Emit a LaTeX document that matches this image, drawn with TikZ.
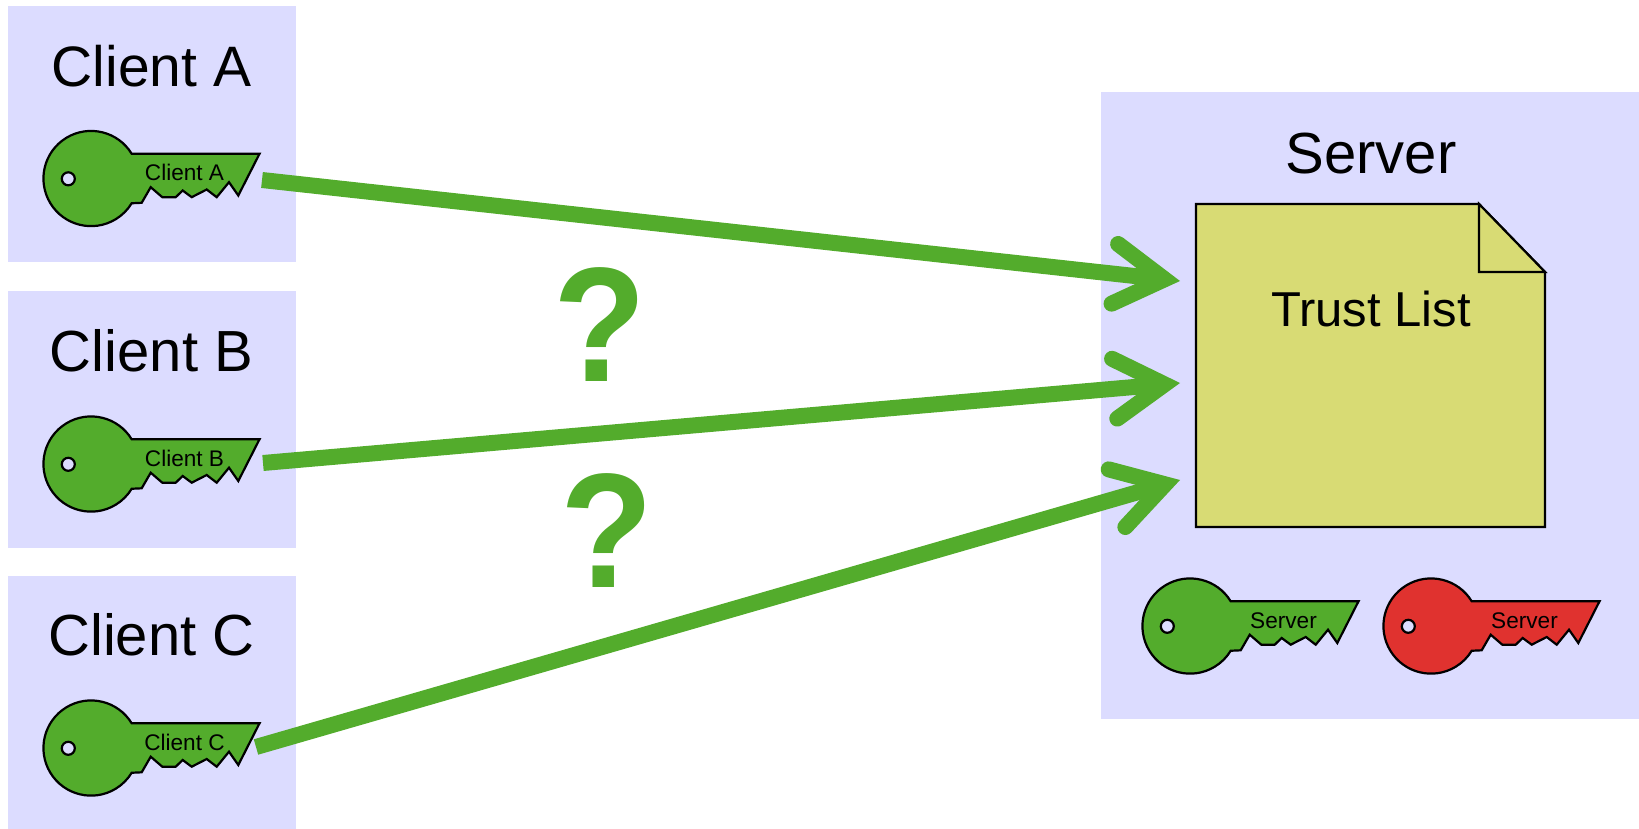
\documentclass[tikz,border=0pt]{standalone}
\usepackage{graphicx}
\usepackage{fontspec}
\setmainfont{Liberation Sans}
\usetikzlibrary{arrows.meta}
\definecolor{keygreen}{HTML}{53AC2C}
\definecolor{keyred}{HTML}{E0322F}
\definecolor{panel}{HTML}{DCDCFF}
\definecolor{notefill}{HTML}{D8DB74}
\tikzset{
  x=1pt,y=-1pt,
  panelbox/.style={fill=panel,draw=none,inner sep=0pt,anchor=north west},
  title/.style={anchor=base,inner sep=0pt,font=\fontsize{58}{60}\selectfont},
  keylabel/.style={anchor=base,inner sep=0pt,font=\fontsize{22.6}{24}\selectfont},
  outline/.style={draw=black,line width=2.2pt,line join=miter},
  link/.style={draw=keygreen,line width=16pt,line cap=butt,
    -{Straight Barb[length=50pt,width=60pt,line cap=round,line join=miter]}},
  query/.style={anchor=base,inner sep=0pt,text=keygreen,font=\fontsize{160}{160}\selectfont\bfseries},
  pics/keyshape/.style 2 args={code={
    \draw[outline,fill=#1] (40.7,-24.7) arc[start angle=31.3,end angle=328.7,radius=47.6pt]
      -- (50.7,24.3) -- (59.7,8.7) -- (71.3,18.7) -- (84.7,18.7) -- (91.7,12) -- (100.7,18.7)
      -- (115.7,11) -- (125.7,18.7) -- (138,3.7) -- (147.3,17) -- (168.5,-24.7) -- cycle;
    \draw[outline,fill=panel] (-22.7,0.3) circle[radius=6.5pt];
    \node[keylabel] (-label) at (93.5,2) {#2};
  }}
}
\begin{document}
\begin{tikzpicture}
\useasboundingbox (0,0) rectangle (1639,829);
\node[panelbox,minimum width=288pt,minimum height=256pt] (boxA) at (8,6) {};
\node[panelbox,minimum width=288pt,minimum height=257pt] (boxB) at (8,291) {};
\node[panelbox,minimum width=288pt,minimum height=253pt] (boxC) at (8,576) {};
\node[panelbox,minimum width=538pt,minimum height=627pt] (boxS) at (1101,92) {};
\node[title,font=\fontsize{57}{60}\selectfont] (tA) at (151.5,87) {Client A};
\node[title] (tB) at (151.5,371) {Client B};
\node[title] (tC) at (151.5,655) {Client C};
\node[title] (tS) at (1371,174) {Server};
\draw[outline,fill=notefill] (1196,204) -- (1479,204) -- (1545,272) -- (1545,527) -- (1196,527) -- cycle;
\draw[outline,fill=notefill] (1479,204) -- (1545,272) -- (1479,272) -- cycle;
\node[anchor=base,inner sep=0pt,font=\fontsize{49}{50}\selectfont] (trust) at (1371,326) {Trust List};
\pic (keyA) at (91,178.5) {keyshape={keygreen}{Client A}};
\pic (keyB) at (91,464) {keyshape={keygreen}{Client B}};
\pic (keyC) at (91,748) {keyshape={keygreen}{Client C}};
\pic (keyS) at (1190,626) {keyshape={keygreen}{Server}};
\pic (keyR) at (1431,626) {keyshape={keyred}{Server}};
\coordinate (a1) at (262,180);
\coordinate (a2) at (1180,281);
\coordinate (b1) at (263,463);
\coordinate (b2) at (1180,383);
\coordinate (c1) at (256,747);
\coordinate (c2) at (1180,480);
\draw[link] (a1) -- (a2);
\draw[link] (b1) -- (b2);
\draw[link] (c1) -- (c2);
\node[query] (q1) at (599.5,381) {\scalebox{.95}[1.02]{?}};
\node[query] (q2) at (606.5,587) {\scalebox{.95}[1.02]{?}};
\end{tikzpicture}
\end{document}
